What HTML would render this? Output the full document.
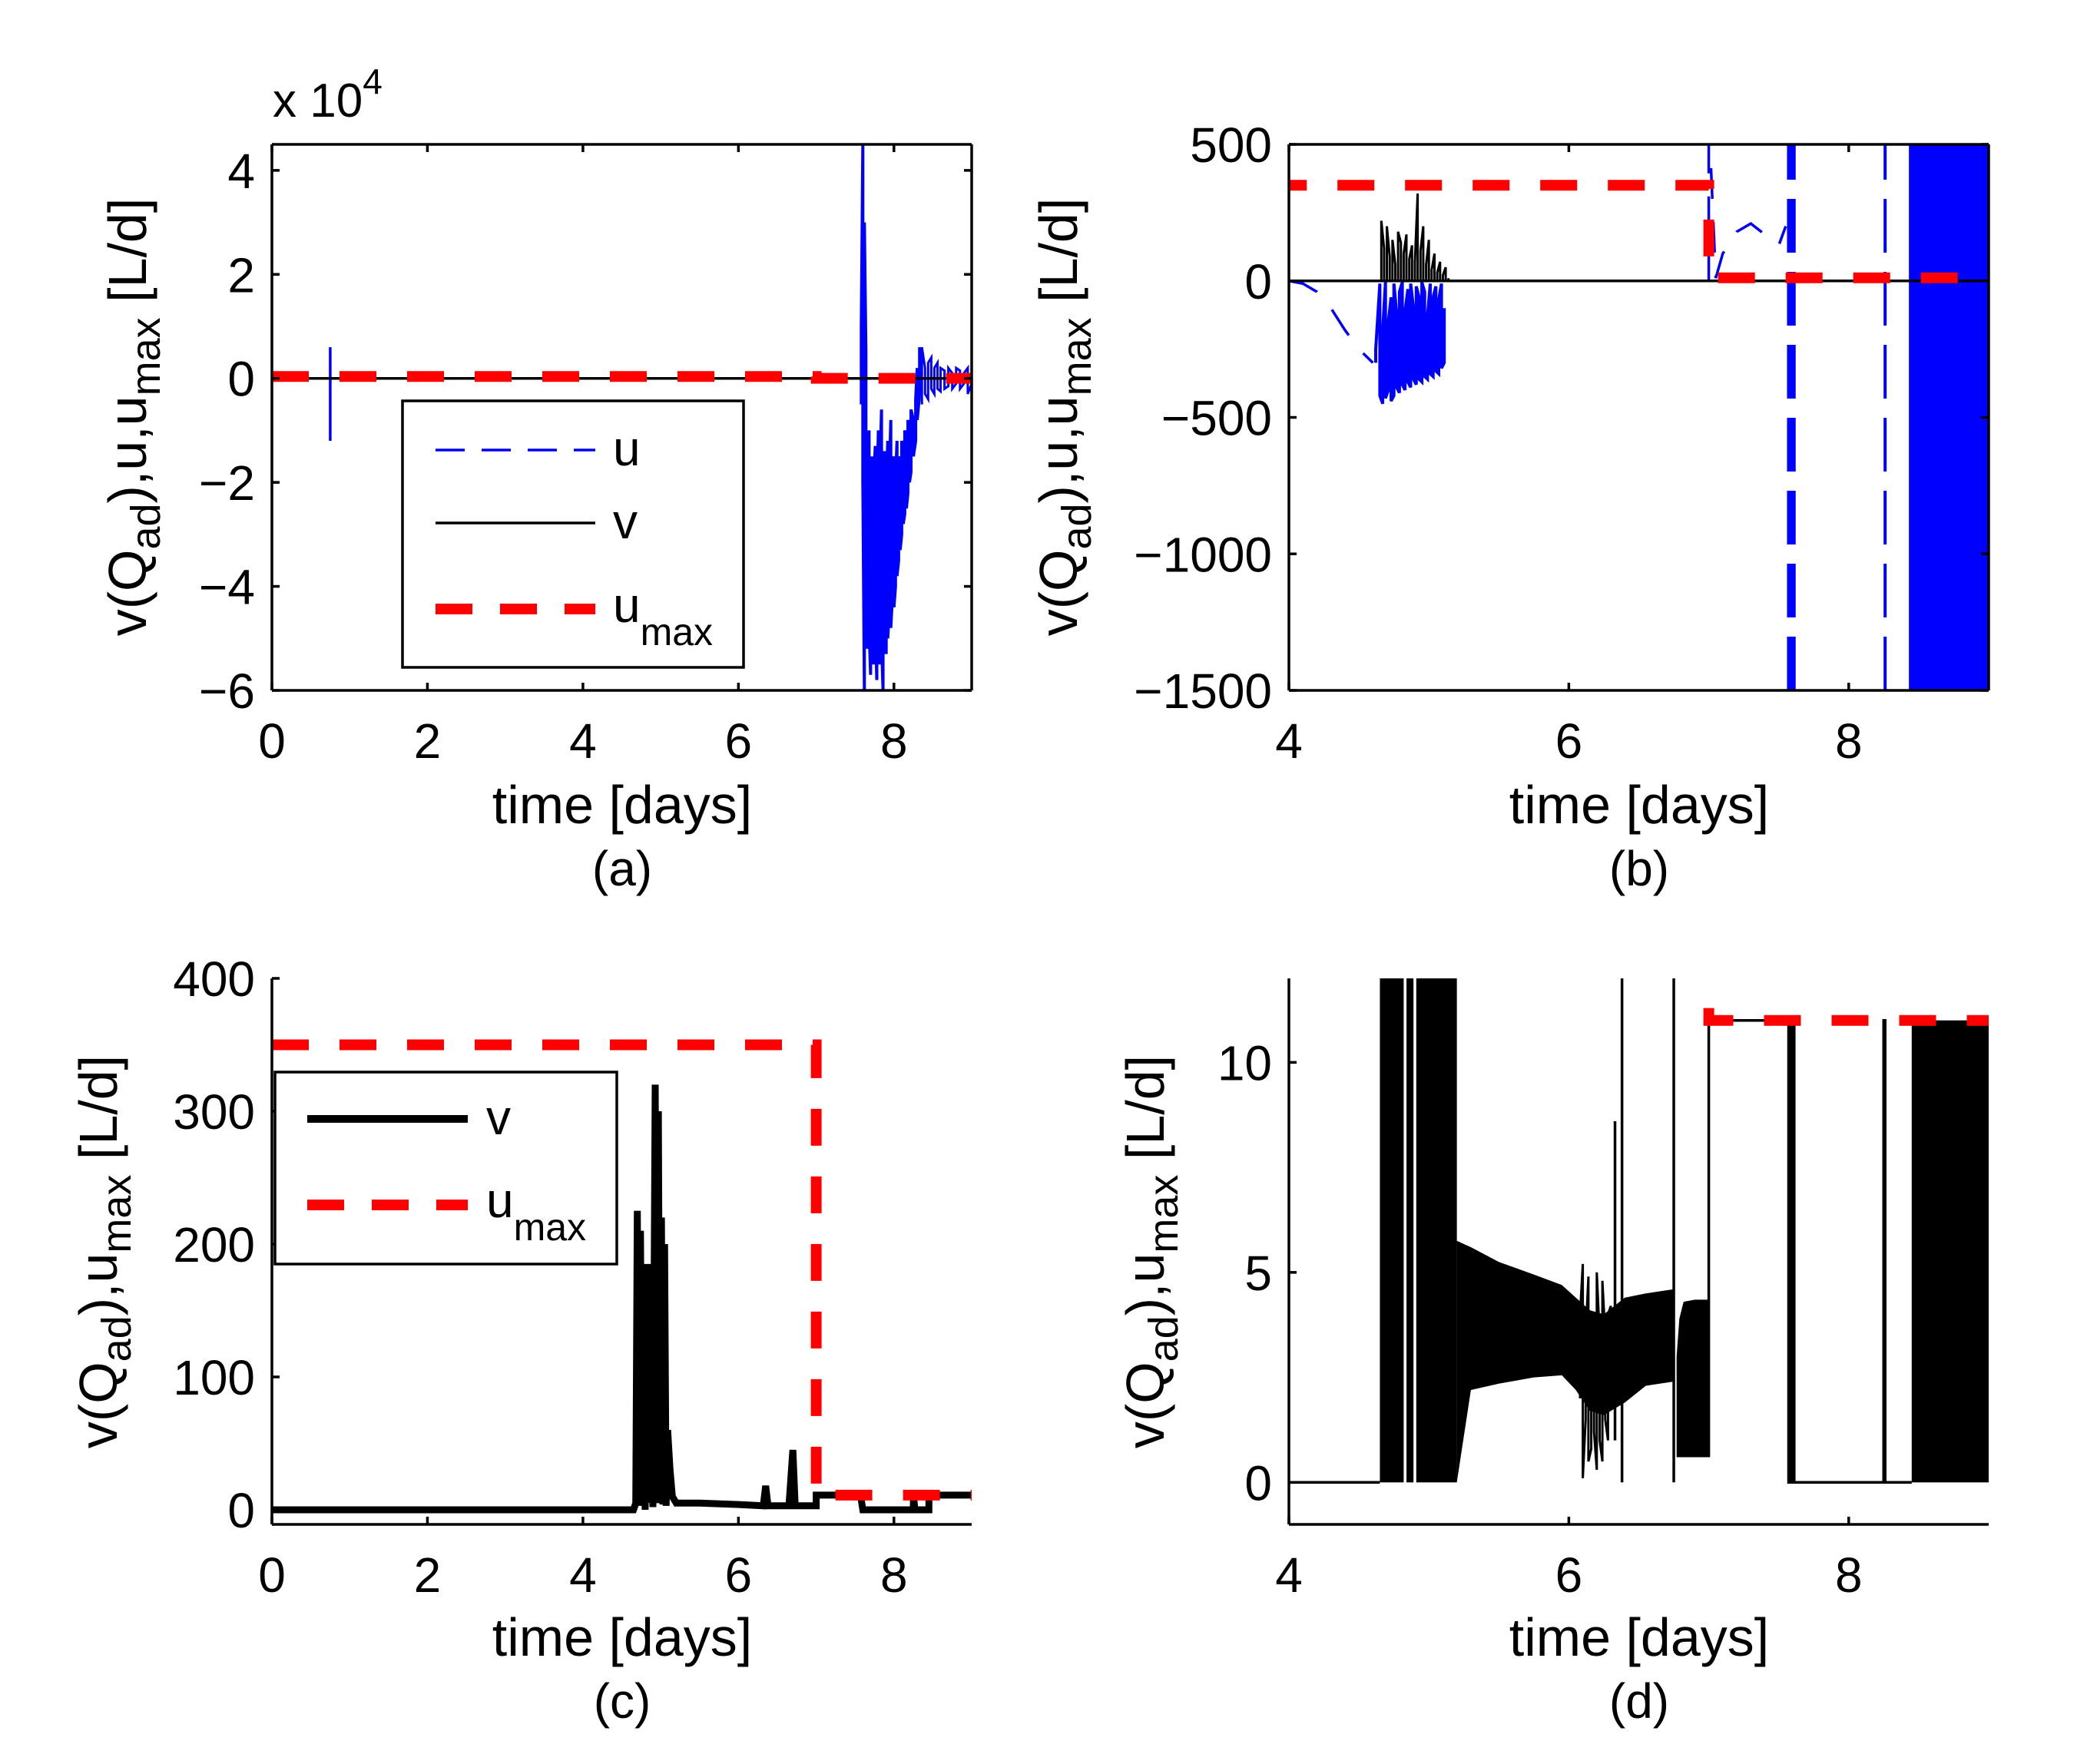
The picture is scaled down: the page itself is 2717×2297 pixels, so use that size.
<!DOCTYPE html>
<html><head><meta charset="utf-8"><style>
html,body{margin:0;padding:0;background:#fff;}
svg{display:block;font-family:"Liberation Sans",Arial,sans-serif;}
</style></head><body>
<svg id="fig" width="2717" height="2297" viewBox="0 0 2717 2297" xmlns="http://www.w3.org/2000/svg">
<defs>
<clipPath id="clipA"><rect x="354" y="188" width="911" height="711"/></clipPath>
<clipPath id="clipB"><rect x="1678" y="188" width="911" height="711"/></clipPath>
<clipPath id="clipC"><rect x="354" y="1274" width="911" height="711"/></clipPath>
<clipPath id="clipD"><rect x="1678" y="1274" width="911" height="711"/></clipPath>
</defs>
</svg>
<script>
// ---------- shared data ----------
const umaxX=[0,7,7,9];
const umaxY=[350,350,11,11];
// panel a: u
const aSpikeX=[0.75];
const aSpikeLo=[-12000];
const aSpikeHi=[6000];
const aUX=[7.58,7.6,7.62,7.64,7.66,7.68,7.7,7.72,7.74,7.76,7.78,7.8,7.82,7.84,7.86,7.88,7.9,7.92,7.94,7.96,7.98,8.0,8.02,8.04,8.06,8.08,8.1,8.12,8.14,8.16,8.18,8.2,8.22,8.25,8.28,8.3,8.33];
const aULo=[-5,-20,-60,-45,-52,-48,-57,-50,-55,-47,-58,-52,-55,-50,-60,-48,-53,-50,-45,-48,-42,-44,-40,-38,-35,-33,-30,-28,-26,-25,-22,-20,-18,-15,-12,-8,-3];
const aUHi=[10,45,30,5,-18,-10,-22,-15,-20,-13,-25,-10,-18,-6,-20,-14,-24,-12,-20,-8,-18,-15,-20,-12,-15,-18,-12,-15,-10,-12,-8,-10,-6,-8,-4,2,6];
const aTX=[8.36,8.4,8.44,8.48,8.52,8.56,8.6,8.65,8.7,8.75,8.8,8.85,8.9,8.95,9.0];
const aTLo=[-5,-3,-4,-2,-3,-2,-2.5,-2,-1.5,-2,-1,-2,-1,-3,-1];
const aTHi=[6,2,3,4,2,3,2,1.5,2,1,2,1.5,1,2,3];
// panel b
const bU1X=[4,4.1,4.2,4.3,4.4,4.5,4.6];
const bU1Y=[0,-10,-40,-100,-180,-250,-300];
const bBX=[4.62,4.65,4.67,4.69,4.71,4.73,4.75,4.77,4.79,4.81,4.83,4.85,4.87,4.89,4.91,4.93,4.95,4.97,4.99,5.01,5.03,5.05,5.07,5.09,5.11];
const bBLo=[-300,-420,-450,-430,-400,-440,-420,-390,-410,-380,-400,-370,-390,-360,-380,-360,-370,-350,-360,-340,-350,-330,-340,-320,-300];
const bBHi=[-250,-10,-180,-5,-150,-60,-10,-120,-40,-5,-110,-30,-10,-100,-20,-60,-5,-40,-130,-10,-60,-20,-70,-10,-100];
const bVX=[4.66,4.68,4.7,4.72,4.74,4.76,4.78,4.8,4.82,4.84,4.86,4.88,4.9,4.92,4.94,4.96,4.98,5.0,5.02,5.04,5.06,5.08,5.1,5.12,5.14];
const bVHi=[220,120,200,90,150,60,180,140,100,170,80,130,70,320,110,200,60,150,40,100,30,70,20,50,10];
const bU2X=[7.0,7.0,7.05,7.1,7.2,7.3,7.4,7.5,7.55];
const bU2Y=[0,600,10,100,180,210,170,130,200];
const bVertX=[7.57,7.59,7.61,8.26];
const bDense=[8.43,9];
// panel c
const cVX=[0,4.65,4.68,4.7,4.72,4.74,4.76,4.78,4.8,4.83,4.85,4.87,4.9,4.93,4.95,4.97,4.99,5.01,5.03,5.05,5.07,5.09,5.12,5.15,5.2,5.5,6.0,6.32,6.35,6.38,6.65,6.7,6.73,7.0,7.0,7.57,7.6,7.62,8.25,8.25,8.27,8.45,8.45,9];
const cVY=[0,0,5,225,5,210,3,160,0,185,5,180,2,320,10,300,5,220,4,200,3,60,30,10,5,5,4,3,18,3,3,45,3,3,11,11,0,0,0,11,0,0,11,11];
// panel d
const dLineX=[4,4.65];
const dLineY=[0,0];
const dStepX=[7.0,7.0,7.57,7.57,8.25,8.25,8.26,8.26,8.45];
const dStepY=[0.6,11,11,0,0,11,11,0,0];
const dSpikeX=[6.33,6.38,6.75,8.25];
const dSpikeBot=[1,0,0,0];
const dSpikeTop=[8.6,12,12,11];
const dBlockX0=[4.65,4.84,4.91,7.57,8.45];
const dBlockX1=[4.82,4.89,5.2,7.62,9];
const dBlockTop=[12,12,12,11,11];
const dBandX=[5.2,5.3,5.5,5.75,5.95,6.05,6.15,6.25,6.4,6.55,6.75];
const dBandHi=[5.75,5.6,5.25,4.95,4.7,4.4,4.1,4.0,4.4,4.5,4.6];
const dBandLo=[0,2.2,2.35,2.5,2.55,2.2,1.7,1.6,1.9,2.3,2.4];
const dBand2X=[6.77,6.79,6.82,6.9,7.0];
const dBand2Hi=[3.0,3.9,4.3,4.35,4.35];
const dBand2Lo=[0.6,0.6,0.6,0.6,0.6];
const dZX=[6.08,6.1,6.12,6.14,6.16,6.18,6.2,6.22,6.24,6.26,6.28,6.3];
const dZLo=[2,0.1,1.5,0.5,0.8,1.2,0.3,1,0.5,1.5,1,2];
const dZHi=[4,5.2,3.5,4.9,3,4,5,3.5,4.8,3.5,4,4.2];

// ---------- helpers ----------
const NS="http://www.w3.org/2000/svg";
const fig=document.getElementById('fig');
function mk(tag,attrs,parent){const e=document.createElementNS(NS,tag);for(const k in attrs)e.setAttribute(k,attrs[k]);(parent||fig).appendChild(e);return e;}
function scale(d0,d1,r0,r1){return v=>r0+(v-d0)/(d1-d0)*(r1-r0);}
function pts(xs,ys,sx,sy){return xs.map((x,i)=>sx(x).toFixed(1)+','+sy(ys[i]).toFixed(1)).join(' ');}
function zig(xs,lo,hi,sx,sy){const p=[];xs.map((x,i)=>{const a=i%2?hi[i]:lo[i],b=i%2?lo[i]:hi[i];p.push(sx(x).toFixed(1)+','+sy(a).toFixed(1));p.push(sx(x).toFixed(1)+','+sy(b).toFixed(1));});return p.join(' ');}

function axes(g,L,T,W,H,xt,xs,yt,yls,sx,sy,box){
  const ax=mk('g',{},g);
  
  
  const st={stroke:'#000','stroke-width':3.5,fill:'none'};
  mk('line',Object.assign({x1:L,y1:T+H,x2:L+W,y2:T+H},st),ax);
  mk('line',Object.assign({x1:L,y1:T,x2:L,y2:T+H},st),ax);
  if(box){mk('line',Object.assign({x1:L,y1:T,x2:L+W,y2:T},st),ax);mk('line',Object.assign({x1:L+W,y1:T,x2:L+W,y2:T+H},st),ax);}
  xt.forEach((v,i)=>{const x=sx(v);
    mk('line',Object.assign({x1:x,y1:T+H,x2:x,y2:T+H-10},st),ax);
    if(box)mk('line',Object.assign({x1:x,y1:T,x2:x,y2:T+10},st),ax);
    const t=mk('text',{x:x,y:T+H+88,'font-size':64,'text-anchor':'middle'},ax);t.textContent=xs[i];
    
    
  });
  yt.forEach((v,i)=>{const y=sy(v);
    mk('line',Object.assign({x1:L,y1:y,x2:L+10,y2:y},st),ax);
    if(box)mk('line',Object.assign({x1:L+W,y1:y,x2:L+W-10,y2:y},st),ax);
    const t=mk('text',{x:L-22,y:y+23,'font-size':64,'text-anchor':'end'},ax);t.textContent=yls[i];
    
    
  });
}
function labels(g,cx,cy,ylx,yly,cap,withU){
  const xl=mk('text',{x:cx,y:cy,'font-size':70,'text-anchor':'middle'},g);xl.textContent='time [days]';
  
  
  const cp=mk('text',{x:cx,y:cy+81,'font-size':64,'text-anchor':'middle'},g);cp.textContent=cap;
  
  
  const yl=mk('text',{x:0,y:0,'font-size':70,'text-anchor':'middle',transform:`translate(${ylx},${yly}) rotate(-90)`},g);
  
  
  const parts=withU?[['v(Q',0],['ad',1],['),u,u',0],['max',1],[' [L/d]',0]]:[['v(Q',0],['ad',1],['),u',0],['max',1],[' [L/d]',0]];
  let prev=0;
  parts.forEach(p=>{const s=mk('tspan',{},yl);s.textContent=p[0];
    if(p[1]){s.setAttribute('font-size',54);s.setAttribute('dy',18);prev=18;}else{if(prev){s.setAttribute('dy',-prev);prev=0;}}});
}
function dashLine(g,xs,ys,sx,sy,name){
  const e=mk('polyline',{points:pts(xs,ys,sx,sy),fill:'none',stroke:'#ff0000','stroke-width':14,'stroke-dasharray':'48 40'},g);
  
  
}

// ================= Panel A =================
(function(){
  const g=mk('g',{});
  const sx=scale(0,9,354,1265), sy=scale(-60000,45000,899,188);
  const pg=mk('g',{'clip-path':'url(#clipA)'},g);
  const z=mk('polyline',{points:zig(aUX,aULo.map(v=>v*1000),aUHi.map(v=>v*1000),sx,sy),fill:'none',stroke:'#0000ff','stroke-width':4},pg);
  
  
  const z2=mk('polyline',{points:zig(aTX,aTLo.map(v=>v*1000),aTHi.map(v=>v*1000),sx,sy),fill:'none',stroke:'#0000ff','stroke-width':3},pg);
  
  
  aSpikeX.forEach((x,i)=>{const l=mk('line',{x1:sx(x),x2:sx(x),y1:sy(aSpikeLo[i]),y2:sy(aSpikeHi[i]),stroke:'#0000ff','stroke-width':3.5},pg);
    
    });
  const v=mk('line',{x1:sx(0),x2:sx(9),y1:sy(0),y2:sy(0),stroke:'#000','stroke-width':3.5},pg);
  
  
  dashLine(pg,umaxX,umaxY,sx,sy,'umax-series');
  axes(g,354,188,911,711,[0,2,4,6,8],['0','2','4','6','8'],[-60000,-40000,-20000,0,20000,40000],['\u22126','\u22124','\u22122','0','2','4'],sx,sy,true);
  const ex=mk('text',{x:355,y:152,'font-size':62},g);ex.textContent='x 10';
  
  
  const e4=mk('tspan',{dy:-30,'font-size':46},ex);e4.textContent='4';
  labels(g,810,1072,190,543,'(a)',true);
  // legend
  const lg=mk('g',{},g);
  mk('rect',{x:524,y:522,width:444,height:347,fill:'#fff',stroke:'#000','stroke-width':3.5},lg);
  const e1=mk('g',{},lg);
  mk('line',{x1:567,x2:775,y1:586,y2:586,stroke:'#0000ff','stroke-width':3.5,'stroke-dasharray':'38 22'},e1);
  mk('text',{x:798,y:606,'font-size':64},e1).textContent='u';
  const e2=mk('g',{},lg);
  mk('line',{x1:567,x2:775,y1:681,y2:681,stroke:'#000','stroke-width':3.5},e2);
  mk('text',{x:798,y:701,'font-size':64},e2).textContent='v';
  const e3=mk('g',{},lg);
  mk('line',{x1:567,x2:775,y1:793,y2:793,stroke:'#ff0000','stroke-width':14,'stroke-dasharray':'48 36'},e3);
  const t=mk('text',{x:798,y:810,'font-size':64},e3);t.textContent='u';
  const ts=mk('tspan',{dy:30,'font-size':50},t);ts.textContent='max';
})();

// ================= Panel B =================
(function(){
  const g=mk('g',{});
  const sx=scale(4,9,1678,2589), sy=scale(-1500,500,899,188);
  const pg=mk('g',{'clip-path':'url(#clipB)'},g);
  const u1=mk('polyline',{points:pts(bU1X,bU1Y,sx,sy),fill:'none',stroke:'#0000ff','stroke-width':3.5,'stroke-dasharray':'40 30'},pg);
  
  
  const ub=mk('polyline',{points:zig(bBX,bBLo,bBHi,sx,sy),fill:'none',stroke:'#0000ff','stroke-width':4},pg);
  
  
  const u2=mk('polyline',{points:pts(bU2X,bU2Y,sx,sy),fill:'none',stroke:'#0000ff','stroke-width':3.5,'stroke-dasharray':'40 30'},pg);
  
  
  bVertX.forEach(x=>{const l=mk('line',{x1:sx(x),x2:sx(x),y1:sy(-1500),y2:sy(500),stroke:'#0000ff','stroke-width':4,'stroke-dasharray':'70 25'},pg);
    
    });
  const dr=mk('rect',{x:sx(bDense[0]),y:sy(500),width:sx(bDense[1])-sx(bDense[0]),height:sy(-1500)-sy(500),fill:'#0000ff'},pg);
  
  
  const v=mk('line',{x1:sx(4),x2:sx(9),y1:sy(0),y2:sy(0),stroke:'#000','stroke-width':3.5},pg);
  
  
  const vz=mk('polyline',{points:zig(bVX,bVX.map(()=>0),bVHi,sx,sy),fill:'none',stroke:'#000','stroke-width':3},pg);
  
  
  dashLine(pg,umaxX,umaxY,sx,sy,'umax-series');
  axes(g,1678,188,911,711,[4,6,8],['4','6','8'],[-1500,-1000,-500,0,500],['\u22121500','\u22121000','\u2212500','0','500'],sx,sy,true);
  labels(g,2134,1072,1402,543,'(b)',true);
})();

// ================= Panel C =================
(function(){
  const g=mk('g',{});
  const sx=scale(0,9,354,1265), sy=scale(-11,400,1985,1274);
  const pg=mk('g',{'clip-path':'url(#clipC)'},g);
  const v=mk('polyline',{points:pts(cVX,cVY,sx,sy),fill:'none',stroke:'#000','stroke-width':9,'stroke-linejoin':'miter'},pg);
  
  
  dashLine(pg,umaxX,umaxY,sx,sy,'umax-series');
  axes(g,354,1274,911,711,[0,2,4,6,8],['0','2','4','6','8'],[0,100,200,300,400],['0','100','200','300','400'],sx,sy,false);
  labels(g,810,2156,152,1630,'(c)',false);
  const lg=mk('g',{},g);
  mk('rect',{x:358,y:1396,width:445,height:250,fill:'#fff',stroke:'#000','stroke-width':3.5},lg);
  const e2=mk('g',{},lg);
  mk('line',{x1:400,x2:609,y1:1457,y2:1457,stroke:'#000','stroke-width':10},e2);
  mk('text',{x:633,y:1477,'font-size':64},e2).textContent='v';
  const e3=mk('g',{},lg);
  mk('line',{x1:400,x2:609,y1:1569,y2:1569,stroke:'#ff0000','stroke-width':14,'stroke-dasharray':'48 36'},e3);
  const t=mk('text',{x:633,y:1585,'font-size':64},e3);t.textContent='u';
  const ts=mk('tspan',{dy:30,'font-size':50},t);ts.textContent='max';
})();

// ================= Panel D =================
(function(){
  const g=mk('g',{});
  const sx=scale(4,9,1678,2589), sy=scale(-1,12,1985,1274);
  const pg=mk('g',{'clip-path':'url(#clipD)'},g);
  const l1=mk('polyline',{points:pts(dLineX,dLineY,sx,sy),fill:'none',stroke:'#000','stroke-width':3.5},pg);
  
  
  dBlockX0.forEach((x,i)=>{const r=mk('rect',{x:sx(x),y:sy(dBlockTop[i]),width:sx(dBlockX1[i])-sx(x),height:sy(0)-sy(dBlockTop[i]),fill:'#000'},pg);
    
    });
  const bp=dBandX.map((x,i)=>sx(x).toFixed(1)+','+sy(dBandHi[i]).toFixed(1)).concat(dBandX.slice().reverse().map((x,j)=>{const i=dBandX.length-1-j;return sx(x).toFixed(1)+','+sy(dBandLo[i]).toFixed(1);})).join(' ');
  const b1=mk('polygon',{points:bp,fill:'#000'},pg);
  
  
  const bp2=dBand2X.map((x,i)=>sx(x).toFixed(1)+','+sy(dBand2Hi[i]).toFixed(1)).concat(dBand2X.slice().reverse().map((x,j)=>{const i=dBand2X.length-1-j;return sx(x).toFixed(1)+','+sy(dBand2Lo[i]).toFixed(1);})).join(' ');
  const b2=mk('polygon',{points:bp2,fill:'#000'},pg);
  
  
  const zz=mk('polyline',{points:zig(dZX,dZLo,dZHi,sx,sy),fill:'none',stroke:'#000','stroke-width':3},pg);
  
  
  dSpikeX.forEach((x,i)=>{const l=mk('line',{x1:sx(x),x2:sx(x),y1:sy(dSpikeBot[i]),y2:sy(dSpikeTop[i]),stroke:'#000','stroke-width':3.5},pg);
    
    });
  const st=mk('polyline',{points:pts(dStepX,dStepY,sx,sy),fill:'none',stroke:'#000','stroke-width':3.5},pg);
  
  
  dashLine(pg,umaxX,umaxY,sx,sy,'umax-series');
  axes(g,1678,1274,911,711,[4,6,8],['4','6','8'],[0,5,10],['0','5','10'],sx,sy,false);
  labels(g,2134,2156,1515,1630,'(d)',false);
})();
</script>
</body></html>
